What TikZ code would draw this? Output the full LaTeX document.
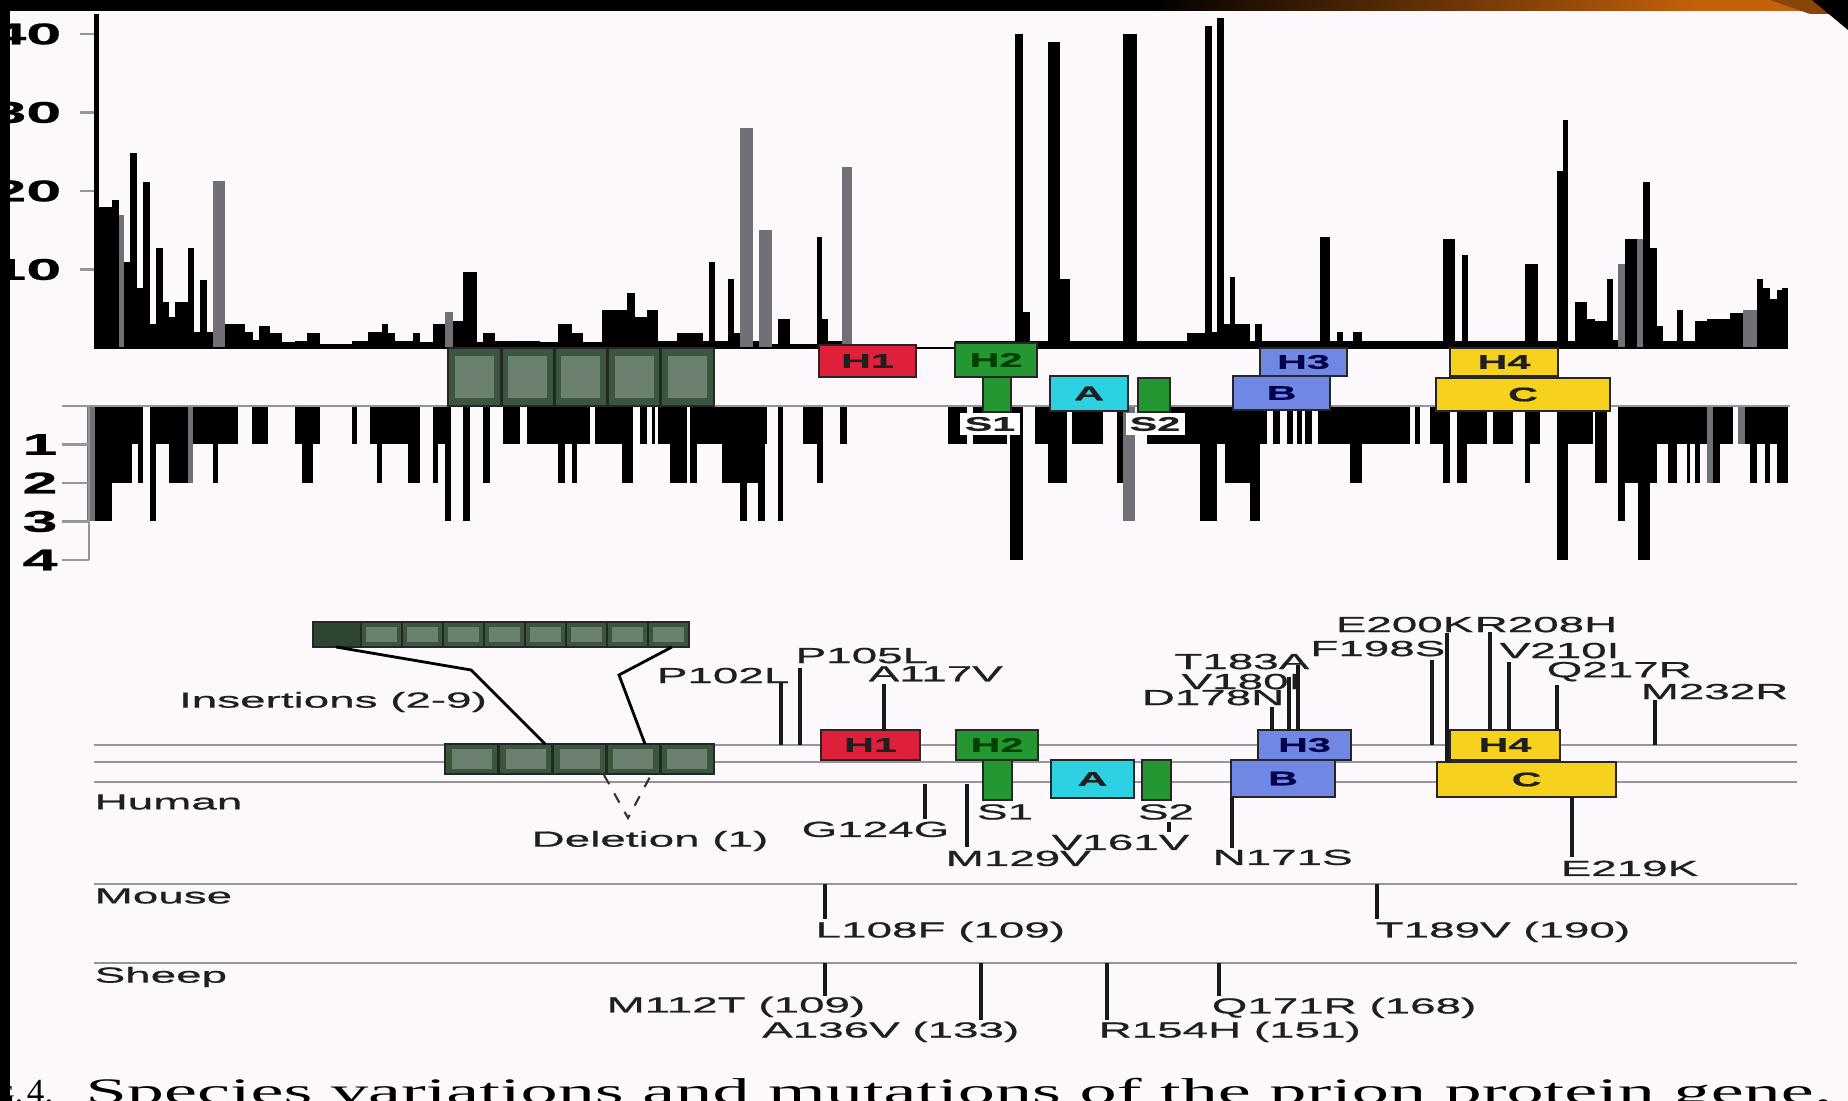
\documentclass[tikz,border=0pt]{standalone}
\usepackage{fontspec}
\setmainfont{Liberation Serif}
\newfontfamily\figsans[FakeStretch=2.1, FakeBold=0.8]{Liberation Sans}
\newfontfamily\capserif[FakeStretch=2.07]{Liberation Serif}
\newfontfamily\plainserif{Liberation Serif}

\definecolor{bgpink}{RGB}{252,248,251}
\definecolor{octagreen}{RGB}{58,86,62}
\definecolor{helixred}{RGB}{222,32,58}
\definecolor{sheetgreen}{RGB}{36,150,50}
\definecolor{loopcyan}{RGB}{44,210,226}
\definecolor{helixblue}{RGB}{112,136,228}
\definecolor{helixyellow}{RGB}{246,210,30}
\definecolor{bargray}{RGB}{112,112,118}
\definecolor{axisgray}{RGB}{150,150,150}
\definecolor{slideorange}{RGB}{196,98,12}

\begin{document}
\begin{tikzpicture}[x=0.01cm, y=-0.01cm,
    every node/.style={font=\figsans\fontsize{6.2}{7}\selectfont, text=black!88, inner sep=0pt},
    boxlabel/.style={font=\figsans\bfseries\fontsize{5.6}{6}\selectfont},
    axislabel/.style={font=\figsans\bfseries\fontsize{8.5}{9}\selectfont, text=black},
    domainbox/.style={draw=black!85, line width=0.8pt},
    mutline/.style={black!90, line width=1.1pt},
    speciesline/.style={axisgray, line width=0.8pt}]

    \useasboundingbox (0,0) rectangle (1848,1101);
    \clip (0,0) rectangle (1848,1101);
    \fill[bgpink] (0,0) rectangle (1848,1101);

    % Histograma superior (variaciones entre especies)
    \foreach \a/\b/\h in {94/99/42.5, 99/112/17.9, 112/119/18.9, 124/130/10.9, 130/137/24.8,
        137/143/7.7, 143/150/21.1, 150/156/3, 156/163/12.8, 163/169/5.8, 169/175/3.9,
        175/188/5.8, 188/194/12.8, 194/200/2, 200/207/8.6, 207/213/2, 225/245/3, 245/253/2,
        253/259/1, 259/270/2.8, 270/282/1.9, 282/295/0.7, 295/307/0.9, 307/320/1.9,
        320/352/0.5, 352/368/0.9, 368/382/2, 382/388/3, 388/395/1.9, 395/413/0.9,
        413/420/1.9, 420/433/0.7, 433/445/3, 453/463/3.5, 463/477/9.7, 477/483/0.7,
        483/495/1.9, 495/540/0.9, 540/558/0.7, 558/572/3, 572/583/1.9, 583/602/0.7,
        602/627/4.9, 627/635/7, 635/647/3.9, 647/658/4.9, 658/677/0.9, 677/703/1.9,
        703/709/0.9, 709/715/10.9, 715/728/0.9, 728/734/8.8, 734/740/1.9, 753/759/0.9,
        772/778/0.5, 778/790/3.7, 790/817/0.5, 817/822/14.2, 822/828/3.7, 828/842/0.9,
        955/1015/0.9, 1015/1023/40, 1023/1030/4.6, 1030/1048/0.9, 1048/1060/39,
        1060/1070/8.8, 1070/1123/0.9, 1123/1137/40, 1137/1187/0.9, 1187/1205/1.9,
        1205/1212/41, 1212/1217/2, 1217/1224/42, 1224/1230/3, 1230/1235/9, 1235/1250/3,
        1250/1255/0.9, 1255/1262/3, 1262/1320/0.9, 1320/1330/14.2, 1330/1337/0.9,
        1337/1343/2, 1343/1353/0.9, 1353/1362/2, 1362/1443/0.9, 1443/1455/13.9,
        1455/1462/0.9, 1462/1468/11.8, 1468/1525/0.9, 1525/1538/10.7, 1538/1557/0.9,
        1557/1563/22.5, 1563/1568/29, 1568/1575/0.9, 1575/1587/5.8, 1587/1595/3.7,
        1595/1607/3.5, 1607/1613/8.8, 1613/1618/1, 1625/1637/13.9, 1643/1650/21.1,
        1650/1657/12.8, 1657/1663/2.8, 1663/1677/0.9, 1677/1683/4.9, 1683/1695/0.9,
        1695/1707/3.5, 1707/1730/3.7, 1730/1743/4.4, 1757/1763/8.8, 1763/1770/7.7,
        1770/1777/6.3, 1777/1782/7.4, 1782/1788/7.7}
        \fill[black] (\a,348) rectangle (\b,{348-7.85*\h});
    \foreach \a/\b/\h in {119/124/17, 213/225/21.3, 445/453/4.6, 740/753/28, 759/772/15,
        842/852/23, 1618/1625/10.7, 1637/1643/13.9, 1743/1757/4.9}
        \fill[bargray] (\a,348) rectangle (\b,{348-7.85*\h});

    % Histograma inferior (mutaciones)
    \foreach \a/\b/\l in {87/143/1, 150/238/1, 252/268/1, 295/320/1, 352/357/1, 370/420/1,
        433/450/1, 503/520/1, 527/590/1, 595/622/1, 640/647/1, 652/655/1, 658/670/1,
        697/767/1, 803/817/1, 840/847/1, 948/967/1, 973/1007/1, 1035/1048/1, 1072/1103/1,
        1147/1233/1, 1260/1267/1, 1273/1280/1, 1287/1293/1, 1297/1302/1, 1305/1312/1,
        1318/1410/1, 1415/1420/1, 1430/1450/1, 1467/1487/1, 1493/1513/1, 1527/1540/1,
        1557/1593/1, 1618/1733/1, 1745/1788/1,
        87/132/2, 138/143/2, 169/188/2, 213/218/2, 302/313/2, 377/382/2, 408/420/2,
        433/438/2, 483/490/2, 558/565/2, 572/577/2, 622/633/2, 670/687/2, 690/697/2,
        722/740/2, 747/758/2, 817/823/2, 1048/1067/2, 1117/1128/2, 1225/1250/2, 1350/1362/2,
        1443/1450/2, 1457/1467/2, 1525/1530/2, 1595/1607/2, 1618/1657/2, 1668/1677/2,
        1687/1690/2, 1695/1700/2, 1713/1720/2, 1750/1757/2, 1765/1770/2, 1777/1788/2,
        95/112/3, 150/156/3, 445/451/3, 463/470/3, 740/747/3, 758/765/3, 778/783/3,
        1200/1217/3, 1250/1260/3, 1618/1625/3,
        1010/1023/4, 1557/1568/4, 1638/1650/4}
        \fill[black] (\a,406) rectangle (\b,{406+38.5*\l});
    \foreach \a/\b/\l in {87/95/3, 188/193/2, 1123/1135/3, 1707/1713/2, 1738/1745/1}
        \fill[bargray] (\a,406) rectangle (\b,{406+38.5*\l});

    % Ejes
    \draw[black, line width=0.5pt] (94,348) -- (1788,348);
    \draw[axisgray, line width=0.6pt] (62,406) -- (1790,406);
    \draw[axisgray, line width=0.6pt] (89,406) -- (89,560);
    \foreach \v in {10,20,30,40} {
        \draw[axisgray, line width=0.6pt] (80,{348-7.85*\v}) -- (94,{348-7.85*\v});
        \node[axislabel, anchor=east] (tick\v) at (62,{348-7.85*\v}) {\v};
    }
    \foreach \v in {1,2,3,4} {
        \draw[axisgray, line width=0.6pt] (62,{406+38.5*\v}) -- (89,{406+38.5*\v});
        \node[axislabel] (lev\v) at (40,{406+38.5*\v}) {\v};
    }

    % Dominios del panel superior
    \foreach \i in {0,...,4} {
        \draw[domainbox, fill=octagreen] ({448+53.2*\i},348) rectangle ++(53.2,58);
        \fill[octagreen!75!white] ({455+53.2*\i},356) rectangle ++(39,42);
    }
    \draw[domainbox, fill=helixred] (819,345) rectangle (916,377);
    \node[boxlabel] (topH1) at (867.5,361) {H1};
    \draw[domainbox, fill=sheetgreen] (983,377) rectangle (1011,412);
    \draw[domainbox, fill=sheetgreen] (955,343) rectangle (1037,377);
    \node[boxlabel, text=green!25!black] (topH2) at (996,360) {H2};
    \draw[domainbox, fill=loopcyan] (1050,376) rectangle (1128,411);
    \node[boxlabel] (topA) at (1089,393.5) {A};
    \draw[domainbox, fill=sheetgreen] (1138,378) rectangle (1170,412);
    \draw[domainbox, fill=helixblue] (1233,376) rectangle (1330,410);
    \node[boxlabel, text=blue!30!black] (topB) at (1281.5,393) {B};
    \draw[domainbox, fill=helixblue] (1260,348) rectangle (1347,376);
    \node[boxlabel, text=blue!30!black] (topH3) at (1303.5,362) {H3};
    \draw[domainbox, fill=helixyellow] (1450,348) rectangle (1558,376);
    \node[boxlabel] (topH4) at (1504,362) {H4};
    \draw[domainbox, fill=helixyellow] (1436,378) rectangle (1610,411);
    \node[boxlabel] (topC) at (1523,394.5) {C};
    \node[boxlabel, fill=white, inner sep=1.2pt] (topS1) at (990,424) {S1};
    \node[boxlabel, fill=white, inner sep=1.2pt] (topS2) at (1155,424) {S2};

    % Mapa del gen: lineas de especies
    \foreach \y in {745,762,782,884,963}
        \draw[speciesline] (94,\y) -- (1797,\y);
    \node[anchor=west] (human) at (94,802) {Human};
    \node[anchor=west] (mouse) at (94,896) {Mouse};
    \node[anchor=west] (sheep) at (94,977) {Sheep};

    % Octarrepeticiones e inserciones
    \foreach \i in {0,...,4} {
        \draw[domainbox, fill=octagreen] ({445+53.8*\i},744) rectangle ++(53.8,30);
        \fill[octagreen!75!white] ({452+53.8*\i},749) rectangle ++(40,20);
    }
    \draw[domainbox, fill=octagreen!80!black] (313,622) rectangle (361,647);
    \foreach \i in {0,...,7} {
        \draw[domainbox, fill=octagreen] ({361+41*\i},622) rectangle ++(41,25);
        \fill[octagreen!75!white] ({366+41*\i},627) rectangle ++(31,15);
    }
    \coordinate (insL) at (336,647);
    \coordinate (insR) at (672,647);
    \coordinate (octL) at (545,744);
    \coordinate (octR) at (645,744);
    \draw[black, line width=0.8pt] (insL) -- (471,670) -- (octL);
    \draw[black, line width=0.8pt] (insR) -- (619,675) -- (octR);
    \node (insertions) at (333,702) {Insertions (2-9)};
    \coordinate (delTip) at (628,818);
    \draw[black!80, dashed, line width=0.6pt] (604,775) -- (delTip) -- (651,775);
    \node (deletion) at (650,841) {Deletion (1)};

    % Dominios del mapa
    \draw[domainbox, fill=helixred] (821,730) rectangle (920,760);
    \node[boxlabel] (lowH1) at (870.5,745) {H1};
    \draw[domainbox, fill=sheetgreen] (983,760) rectangle (1012,800);
    \draw[domainbox, fill=sheetgreen] (956,730) rectangle (1038,760);
    \node[boxlabel, text=green!25!black] (lowH2) at (997,745) {H2};
    \draw[domainbox, fill=loopcyan] (1051,760) rectangle (1134,798);
    \node[boxlabel] (lowA) at (1092.5,779) {A};
    \draw[domainbox, fill=sheetgreen] (1142,760) rectangle (1171,800);
    \draw[domainbox, fill=helixblue] (1231,760) rectangle (1335,797);
    \node[boxlabel, text=blue!30!black] (lowB) at (1283,778.5) {B};
    \draw[domainbox, fill=helixblue] (1258,730) rectangle (1351,760);
    \node[boxlabel, text=blue!30!black] (lowH3) at (1304.5,745) {H3};
    \draw[domainbox, fill=helixyellow] (1450,730) rectangle (1560,760);
    \node[boxlabel] (lowH4) at (1505,745) {H4};
    \draw[domainbox, fill=helixyellow] (1437,762) rectangle (1616,797);
    \node[boxlabel] (lowC) at (1526.5,779.5) {C};
    \node (lowS1) at (1005,812) {S1};
    \node (lowS2) at (1166,812) {S2};

    % Mutaciones por encima de la linea humana
    \foreach \x/\ya/\yb/\lx/\ly/\anc/\txt [count=\i] in {
        781/745/683/790/684/south east/P102L,
        800/745/668/795/664/south west/P105L,
        884/731/684/868/682/south west/A117V,
        1272/731/707/1285/706/south east/D178N,
        1289/731/677/1302/690/south east/V180I,
        1298/731/665/1310/670/south east/T183A,
        1432/745/660/1446/657/south east/F198S,
        1447/762/633/1474/633/south east/E200K,
        1490/731/632/1474/633/south west/R208H,
        1509/731/662/1499/659/south west/V210I,
        1557/731/685/1546/682/south west/Q217R,
        1655/745/700/1640/700/south west/M232R} {
        \node[anchor=\anc] (up\i) at (\lx,\ly) {\txt};
        \draw[mutline] (\x,\ya) -- (\x,\yb);
    }

    % Mutaciones por debajo (humano, raton, oveja)
    \foreach \x/\ya/\yb/\lx/\ly/\anc/\txt [count=\i] in {
        925/784/819/950/821/north east/G124G,
        967/784/847/945/850/north west/M129V,
        1169/822/832/1190/834/north east/V161V,
        1232/797/848/1212/849/north west/N171S,
        1572/797/857/1560/860/north west/E219K,
        825/884/919/815/921/north west/L108F (109),
        1377/884/919/1375/921/north west/T189V (190),
        825/963/996/866/996/north east/M112T (109),
        981/963/1020/1020/1021/north east/A136V (133),
        1107/963/1020/1098/1021/north west/R154H (151),
        1219/963/996/1211/997/north west/Q171R (168)} {
        \draw[mutline] (\x,\ya) -- (\x,\yb);
        \node[anchor=\anc] (down\i) at (\lx,\ly) {\txt};
    }

    % Pie de figura
    \node[font=\plainserif\fontsize{10}{12}\selectfont, text=black, anchor=base east] (figno) at (54,1104)
        {F{\fontsize{7.5}{9}\selectfont IG}.\kern1pt 4.};
    \node[font=\capserif\fontsize{10.2}{12}\selectfont, text=black, anchor=base west] (caption) at (85,1104)
        {Species variations and mutations of the prion protein gene.};

    % Marco de la diapositiva
    \fill[black] (0,0) rectangle (10,1101);
    \fill[black] (0,0) rectangle (1848,11);
    \shade[left color=black, right color=slideorange] (1150,0) rectangle (1700,11);
    \fill[slideorange] (1700,0) rectangle (1800,11);
    \fill[slideorange!70!black] (1770,0) -- (1848,0) -- (1848,14) -- (1810,14) -- cycle;
    \fill[black] (1812,0) -- (1848,0) -- (1848,30) -- cycle;
\end{tikzpicture}
\end{document}
